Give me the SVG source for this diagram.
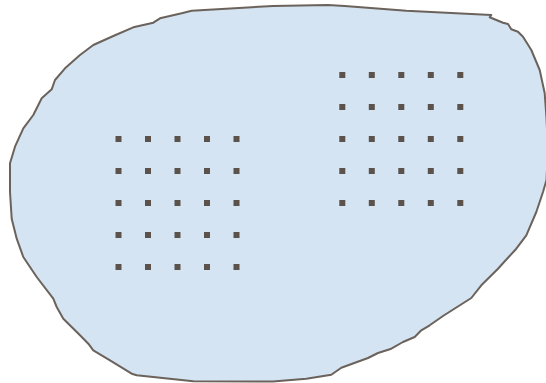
<svg xmlns="http://www.w3.org/2000/svg" xmlns:xlink="http://www.w3.org/1999/xlink" width="546" height="383" viewBox="0 0 546 383">
<style>
.blob{fill:#d4e4f2;stroke:#6b625b;stroke-width:2;stroke-linejoin:round}
.dot{fill:#5b524c}
</style>
<defs>
<rect id="d" class="dot" x="-3" y="-3" width="6" height="6"/>
</defs>
<rect width="546" height="383" fill="#ffffff"/>
<g id="region">
<path class="blob" d="M273,6 L328,5 L344.7,6 L406.3,10.7 L491.3,15 L489.7,17.3 L503,22.7 L508,24 L511.3,29.3 L518,31.7 L523,36.7 L531.3,50 L539.7,70 L544.7,93.3 L546.5,118 L548,150 L546.5,180 L543,192 L536.3,212 L526.3,235.3 L516.3,248.7 L498,268.7 L481.3,285.3 L471.3,298 L443,316 L429.7,325.3 L421.3,330.3 L414.7,337 L403,342 L391.3,348.7 L378,353 L368,358 L341.3,367.7 L331.3,374.7 L306.3,378.7 L273,381.5 L193.3,381.3 L136.7,375.3 L131.7,373.7 L110,360.3 L93.3,350.3 L88.3,343.7 L80,335.3 L63.3,318.7 L56.7,307 L53.3,298.7 L36.7,277 L23.3,257 L16.7,238.7 L11.7,218.7 L10,192 L10,163.3 L15,146.7 L23.3,128.3 L33.3,115 L41.7,98.3 L51.7,89.3 L55,80 L65,68.3 L80,55 L93.3,45 L113.3,36 L133.3,27.3 L153.3,22.7 L160,18.3 L181.7,13.3 L191.7,10.7 Z"/>
</g>
<g id="grid-left">
<use xlink:href="#d" x="118.5" y="139"/><use xlink:href="#d" x="148" y="139"/><use xlink:href="#d" x="177.5" y="139"/><use xlink:href="#d" x="207" y="139"/><use xlink:href="#d" x="236.5" y="139"/>
<use xlink:href="#d" x="118.5" y="171"/><use xlink:href="#d" x="148" y="171"/><use xlink:href="#d" x="177.5" y="171"/><use xlink:href="#d" x="207" y="171"/><use xlink:href="#d" x="236.5" y="171"/>
<use xlink:href="#d" x="118.5" y="203"/><use xlink:href="#d" x="148" y="203"/><use xlink:href="#d" x="177.5" y="203"/><use xlink:href="#d" x="207" y="203"/><use xlink:href="#d" x="236.5" y="203"/>
<use xlink:href="#d" x="118.5" y="235"/><use xlink:href="#d" x="148" y="235"/><use xlink:href="#d" x="177.5" y="235"/><use xlink:href="#d" x="207" y="235"/><use xlink:href="#d" x="236.5" y="235"/>
<use xlink:href="#d" x="118.5" y="267"/><use xlink:href="#d" x="148" y="267"/><use xlink:href="#d" x="177.5" y="267"/><use xlink:href="#d" x="207" y="267"/><use xlink:href="#d" x="236.5" y="267"/>
</g>
<g id="grid-right">
<use xlink:href="#d" x="342.3" y="75"/><use xlink:href="#d" x="371.8" y="75"/><use xlink:href="#d" x="401.3" y="75"/><use xlink:href="#d" x="430.8" y="75"/><use xlink:href="#d" x="460.3" y="75"/>
<use xlink:href="#d" x="342.3" y="107"/><use xlink:href="#d" x="371.8" y="107"/><use xlink:href="#d" x="401.3" y="107"/><use xlink:href="#d" x="430.8" y="107"/><use xlink:href="#d" x="460.3" y="107"/>
<use xlink:href="#d" x="342.3" y="139"/><use xlink:href="#d" x="371.8" y="139"/><use xlink:href="#d" x="401.3" y="139"/><use xlink:href="#d" x="430.8" y="139"/><use xlink:href="#d" x="460.3" y="139"/>
<use xlink:href="#d" x="342.3" y="171"/><use xlink:href="#d" x="371.8" y="171"/><use xlink:href="#d" x="401.3" y="171"/><use xlink:href="#d" x="430.8" y="171"/><use xlink:href="#d" x="460.3" y="171"/>
<use xlink:href="#d" x="342.3" y="203"/><use xlink:href="#d" x="371.8" y="203"/><use xlink:href="#d" x="401.3" y="203"/><use xlink:href="#d" x="430.8" y="203"/><use xlink:href="#d" x="460.3" y="203"/>
</g>
</svg>
